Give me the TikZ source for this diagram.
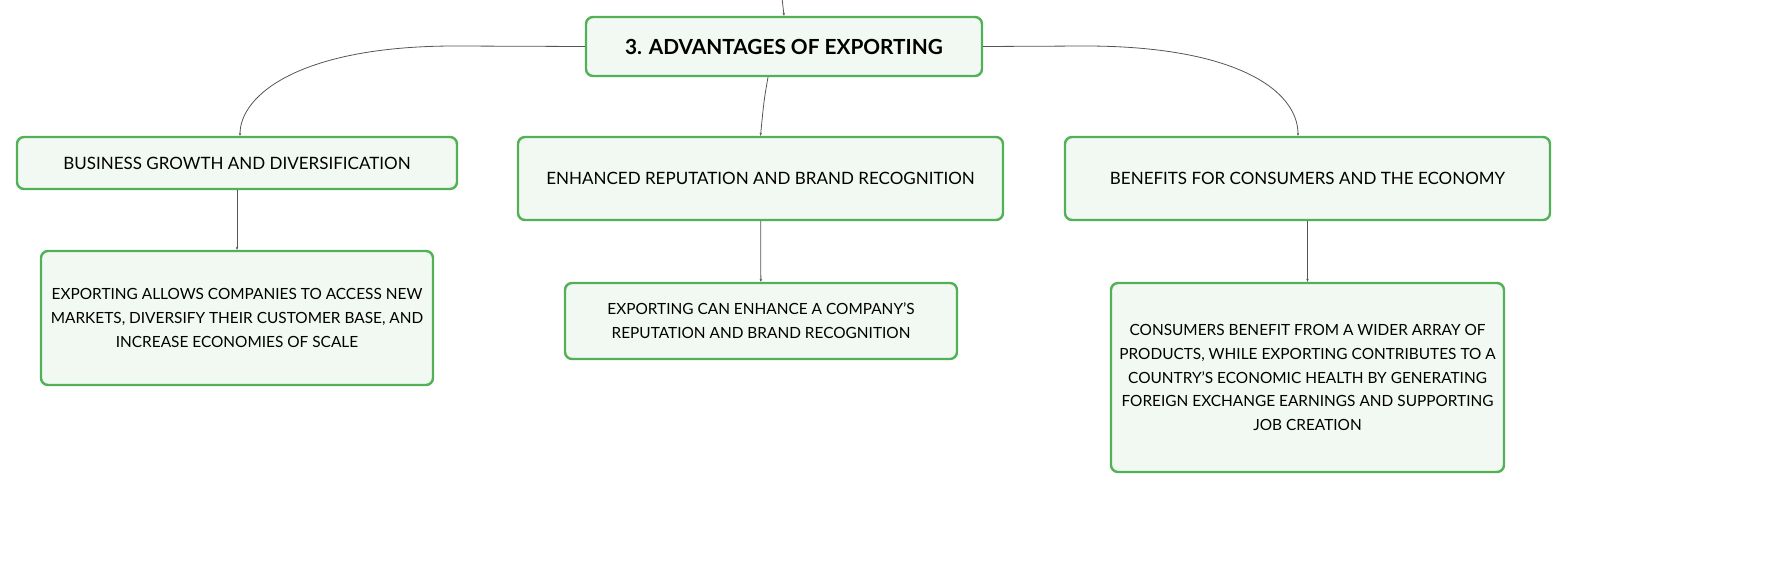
\documentclass[tikz,border=0pt]{standalone}
\usepackage{fontspec}
\setmainfont{Lato}
\usetikzlibrary{arrows.meta}
\definecolor{boxline}{HTML}{52B157}
\definecolor{boxfill}{HTML}{F1F9F2}
\definecolor{linkgray}{HTML}{555555}
\tikzset{
  topicbox/.style={draw=boxline, fill=boxfill, line width=2.4pt, rounded corners=7pt, align=center, inner sep=0pt},
  headbox/.style={topicbox, font=\fontsize{17}{20}\selectfont},
  notebox/.style={topicbox, font=\fontsize{15.4}{23.8}\selectfont},
  link/.style={draw=linkgray, line width=0.8pt, -{Stealth[length=3pt,width=2.5pt]}}
}
\begin{document}
\begin{tikzpicture}[x=1pt,y=-1pt]
            \useasboundingbox (0,0) rectangle (1791,562);

            \node[topicbox, minimum width=396pt, minimum height=59pt, font=\bfseries\fontsize{20.8}{24}\selectfont] (root) at (784,46.5) {3. ADVANTAGES OF EXPORTING};

            \node[headbox, minimum width=440pt, minimum height=52pt] (growth) at (237,163) {BUSINESS GROWTH AND DIVERSIFICATION};
            \node[headbox, minimum width=485pt, minimum height=83pt] (reputation) at (760.5,178.5) {ENHANCED REPUTATION AND BRAND RECOGNITION};
            \node[headbox, minimum width=485pt, minimum height=83pt] (benefits) at (1307.5,178.5) {BENEFITS FOR CONSUMERS AND THE ECONOMY};

            \node[notebox, minimum width=392pt, minimum height=134pt] (growthnote) at (237,318) {EXPORTING ALLOWS COMPANIES TO ACCESS NEW\\ MARKETS, DIVERSIFY THEIR CUSTOMER BASE, AND\\ INCREASE ECONOMIES OF SCALE};
            \node[notebox, minimum width=392pt, minimum height=76pt] (reputationnote) at (761,321) {EXPORTING CAN ENHANCE A COMPANY'S\\ REPUTATION AND BRAND RECOGNITION};
            \node[notebox, minimum width=393pt, minimum height=189pt] (benefitsnote) at (1307.5,377.5) {CONSUMERS BENEFIT FROM A WIDER ARRAY OF\\ PRODUCTS, WHILE EXPORTING CONTRIBUTES TO A\\ COUNTRY'S ECONOMIC HEALTH BY GENERATING\\ FOREIGN EXCHANGE EARNINGS AND SUPPORTING\\ JOB CREATION};

            \coordinate (parent) at (782,-2);

            \path[link] (parent) .. controls (783,6) .. (root.north);
            \path[link] (root.west) -- (455,46) .. controls (300,46) and (240,95) .. ([xshift=3pt]growth.north);
            \path[link] ([xshift=-16pt]root.south) .. controls (764,100) .. (reputation.north);
            \path[link] (root.east) -- (1085,46) .. controls (1235,46) and (1298,90) .. ([xshift=-9.5pt]benefits.north);

            \path[link] (growth) -- (growthnote);
            \path[link] (reputation) -- (reputationnote);
            \path[link] (benefits) -- (benefitsnote);
        \end{tikzpicture}
\end{document}
